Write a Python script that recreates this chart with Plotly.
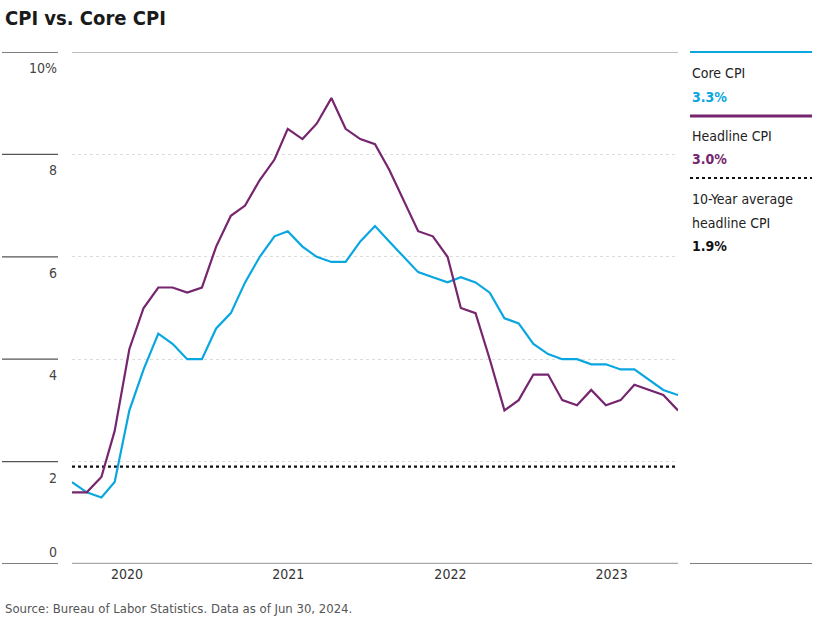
import plotly.graph_objects as go
import pandas as pd

# ---- data ----
months = pd.date_range("2020-12-01", "2024-06-01", freq="MS").strftime("%Y-%m-%d").tolist()
headline_cpi = [1.4,
                1.4, 1.7, 2.6, 4.2, 5.0, 5.4, 5.4, 5.3, 5.4, 6.2, 6.8, 7.0,
                7.5, 7.9, 8.5, 8.3, 8.6, 9.1, 8.5, 8.3, 8.2, 7.7, 7.1, 6.5,
                6.4, 6.0, 5.0, 4.9, 4.0, 3.0, 3.2, 3.7, 3.7, 3.2, 3.1, 3.4,
                3.1, 3.2, 3.5, 3.4, 3.3, 3.0]
core_cpi = [1.6,
            1.4, 1.3, 1.6, 3.0, 3.8, 4.5, 4.3, 4.0, 4.0, 4.6, 4.9, 5.5,
            6.0, 6.4, 6.5, 6.2, 6.0, 5.9, 5.9, 6.3, 6.6, 6.3, 6.0, 5.7,
            5.6, 5.5, 5.6, 5.5, 5.3, 4.8, 4.7, 4.3, 4.1, 4.0, 4.0, 3.9,
            3.9, 3.8, 3.8, 3.6, 3.4, 3.3]
avg_10yr = 1.9
x_tick_dates = ["2021-03-27", "2022-03-02", "2023-02-07", "2024-01-13"]
x_tick_text = ["2020", "2021", "2022", "2023"]
y_tick_vals = [0, 2, 4, 6, 8, 10]
y_tick_text = ["0", "2", "4", "6", "8", "10%"]

CORE = "#0AA6DF"
HEAD = "#76256F"
FONT = "Liberation Sans Narrow, DejaVu Sans Condensed, Roboto, sans-serif"

W, H = 817, 619
L, R, T, B = 72, 139, 52, 55
pw = W - L - R
ph = H - T - B

def px_x(p):
    return (p - L) / pw

def px_y(p):
    return (H - B - p) / ph

fig = go.Figure()
fig.add_trace(go.Scatter(x=months, y=[avg_10yr] * len(months), mode="lines",
                         line=dict(color="#111111", width=2.2, dash="dot"),
                         hoverinfo="skip"))
fig.add_trace(go.Scatter(x=months, y=core_cpi, mode="lines",
                         line=dict(color=CORE, width=2.2)))
fig.add_trace(go.Scatter(x=months, y=headline_cpi, mode="lines",
                         line=dict(color=HEAD, width=2.2)))

shapes = []
annotations = []
# gridline edges
shapes.append(dict(type="line", xref="paper", yref="y", x0=0, x1=1, y0=10, y1=10,
                   line=dict(color="#a8a8a8", width=1.5)))
shapes.append(dict(type="line", xref="paper", yref="y", x0=0, x1=1, y0=0, y1=0,
                   line=dict(color="#a8a8a8", width=2.5)))
# left axis segments and labels
for v, t in zip(y_tick_vals, y_tick_text):
    shapes.append(dict(type="line", xref="paper", yref="y", x0=px_x(2), x1=px_x(58),
                       y0=v, y1=v, line=dict(color="#555555", width=1.3)))
    annotations.append(dict(xref="paper", yref="y", x=px_x(59), y=v, text=t,
                            showarrow=False, xanchor="right",
                            yanchor="bottom" if v == 0 else "top",
                            yshift=2 if v == 0 else -6,
                            font=dict(family=FONT, size=14, color="#444444")))
# right panel base line
shapes.append(dict(type="line", xref="paper", yref="y", x0=px_x(690), x1=px_x(812),
                   y0=0, y1=0, line=dict(color="#555555", width=1.3)))
# legend panel
shapes.append(dict(type="line", xref="paper", yref="paper", x0=px_x(690), x1=px_x(812),
                   y0=px_y(52), y1=px_y(52), line=dict(color=CORE, width=2.2)))
shapes.append(dict(type="line", xref="paper", yref="paper", x0=px_x(690), x1=px_x(812),
                   y0=px_y(116), y1=px_y(116), line=dict(color=HEAD, width=2.8)))
shapes.append(dict(type="line", xref="paper", yref="paper", x0=px_x(690), x1=px_x(812),
                   y0=px_y(178), y1=px_y(178), line=dict(color="#111111", width=2.2, dash="dot")))

legend_items = [
    ("Core CPI", 73, False, "#222222"),
    (f"{core_cpi[-1]:.1f}%", 97, True, CORE),
    ("Headline CPI", 136, False, "#222222"),
    (f"{headline_cpi[-1]:.1f}%", 159, True, HEAD),
    ("10-Year average", 199, False, "#222222"),
    ("headline CPI", 223, False, "#222222"),
    (f"{avg_10yr:.1f}%", 246, True, "#111111"),
]
for text, yp, bold, col in legend_items:
    annotations.append(dict(xref="paper", yref="paper", x=px_x(690), y=px_y(yp),
                            text=f"<b>{text}</b>" if bold else text, showarrow=False,
                            xanchor="left", yanchor="middle",
                            font=dict(family=FONT, size=14, color=col)))

# title and source
annotations.append(dict(xref="paper", yref="paper", x=px_x(3), y=px_y(18),
                        text="<b>CPI vs. Core CPI</b>", showarrow=False,
                        xanchor="left", yanchor="middle",
                        font=dict(family=FONT, size=20, color="#1a1a1a")))
annotations.append(dict(xref="paper", yref="paper", x=px_x(3), y=px_y(608),
                        text="Source: Bureau of Labor Statistics. Data as of Jun 30, 2024.",
                        showarrow=False, xanchor="left", yanchor="middle",
                        font=dict(family=FONT, size=13, color="#555555")))

fig.update_layout(
    width=W, height=H,
    margin=dict(l=L, r=R, t=T, b=B, pad=0),
    paper_bgcolor="white", plot_bgcolor="white",
    showlegend=False,
    shapes=shapes, annotations=annotations,
    font=dict(family=FONT),
    xaxis=dict(range=[months[0], months[-1]], tickvals=x_tick_dates, ticktext=x_tick_text,
               showgrid=False, zeroline=False, showline=False, ticks="",
               tickfont=dict(family=FONT, size=14, color="#333333")),
    yaxis=dict(range=[0, 10], tickvals=[2, 4, 6, 8], showticklabels=False,
               showgrid=True, gridcolor="#dddddd", griddash="dot", gridwidth=1,
               zeroline=False, showline=False, ticks=""),
)
fig.write_html("out.html", config={"displayModeBar": False},
               post_script="document.body.style.margin='0';document.body.style.overflow='hidden';")
